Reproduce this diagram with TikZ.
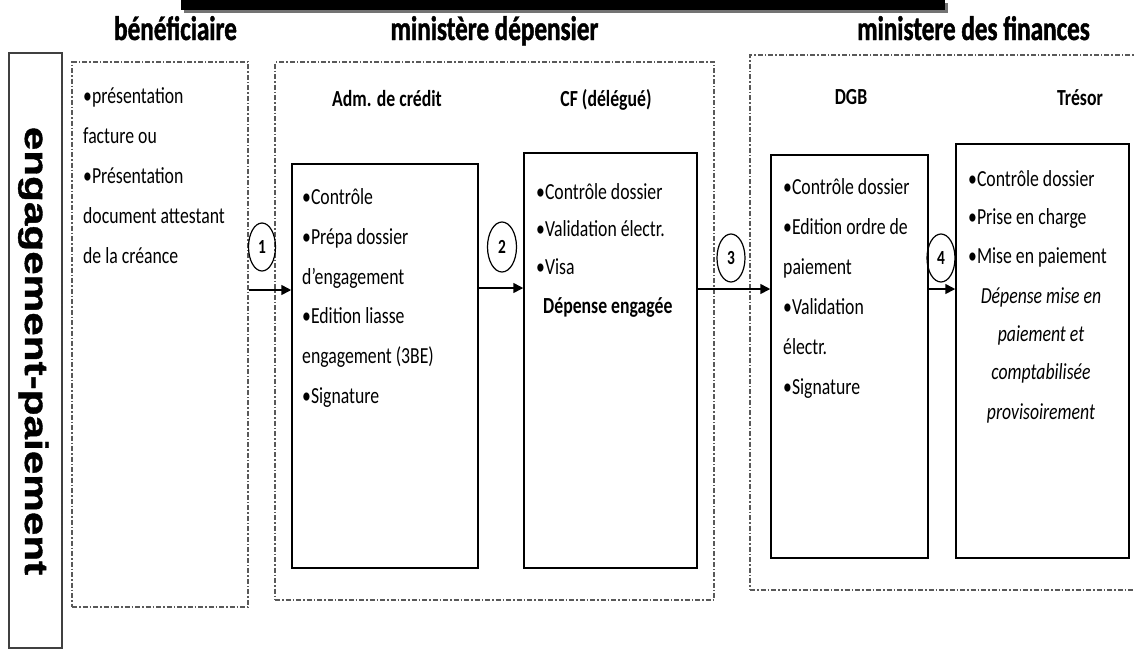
\documentclass[tikz,border=0pt]{standalone}
\usepackage{fontspec}
\setmainfont{Carlito}[FakeStretch=0.77]
\newfontfamily\tfont{Carlito}[FakeStretch=0.74, FakeBold=1.2]
\newfontfamily\vfont{Liberation Sans}[FakeStretch=1.3, FakeBold=1.2]
\usetikzlibrary{arrows.meta,shapes.geometric}
\begin{document}
\begin{tikzpicture}[x=1pt,y=-1pt,
  txt/.style={anchor=base west, inner sep=0pt, font=\fontsize{23}{27}\selectfont},
  ctxt/.style={anchor=base, inner sep=0pt, font=\itshape\fontsize{23}{27}\selectfont},
  head/.style={anchor=base, inner sep=0pt, font=\bfseries\fontsize{23}{27}\selectfont},
  title/.style={anchor=base, inner sep=0pt, font=\tfont\bfseries\fontsize{34}{36}\selectfont},
  solidbox/.style={draw=black, line width=1.5pt, inner sep=0pt},
  dashbox/.style={draw=black!65, line width=1.2pt, inner sep=0pt, dash pattern=on 5pt off 2pt on 1.5pt off 2pt},
  num/.style={draw, ellipse, line width=1.2pt, inner sep=0pt, minimum width=27pt, minimum height=48pt, font=\bfseries\fontsize{20}{20}\selectfont},
  arr/.style={line width=1.6pt, -{Triangle[length=10pt,width=10pt]}}]
\useasboundingbox (0,0) rectangle (1135,649);
\clip (0,0) rectangle (1135,649);
% top bar
\fill[black!55] (184,3) rectangle (948,13);
\fill[black] (181,0) rectangle (945,10);
% titles
\node[title] (t1) at (175.5,40) {bénéficiaire};
\node[title] (t2) at (494.5,40) {ministère dépensier};
\node[title] (t3) at (973.5,40) {ministere des finances};
% left label box
\node[draw=black!75, line width=1.2pt, inner sep=0pt, minimum width=53pt, minimum height=595pt] (lbox) at (35.5,350.5) {};
\node[anchor=base, rotate=-90, inner sep=0pt, font=\vfont\bfseries\fontsize{32.5}{34}\selectfont] (ltxt) at (25,351) {engagement-paiement};
% dashed groups
\node[dashbox, minimum width=176pt, minimum height=545pt] (ben) at (160,334.5) {};
\node[dashbox, minimum width=439pt, minimum height=538pt] (dep) at (494.5,331) {};
\node[dashbox, minimum width=395pt, minimum height=535pt] (fin) at (947.5,322.5) {};
% solid boxes
\node[solidbox, minimum width=186pt, minimum height=404pt] (adm) at (385,366) {};
\node[solidbox, minimum width=173pt, minimum height=415pt] (cf) at (610.5,360.5) {};
\node[solidbox, minimum width=157pt, minimum height=403pt] (dgb) at (849.5,356.5) {};
\node[solidbox, minimum width=173pt, minimum height=414pt] (tre) at (1042.5,351) {};
% headings
\node[head] (h1) at (387,106) {Adm. de crédit};
\node[head] (h2) at (606,106) {CF (délégué)};
\node[head] (h3) at (851,104) {DGB};
\node[head] (h4) at (1080,105) {Trésor};
% beneficiaire text
\node[txt] (b1) at (83,103) {•présentation};
\node[txt] (b2) at (83,143) {facture ou};
\node[txt] (b3) at (83,183) {•Présentation};
\node[txt] (b4) at (83,223) {document attestant};
\node[txt] (b5) at (83,263) {de la créance};
% adm text
\node[txt] (a1) at (302,204) {•Contrôle};
\node[txt] (a2) at (302,244) {•Prépa dossier};
\node[txt] (a3) at (302,284) {d’engagement};
\node[txt] (a4) at (302,323) {•Edition liasse};
\node[txt] (a5) at (302,363) {engagement (3BE)};
\node[txt] (a6) at (302,403) {•Signature};
% cf text
\node[txt] (c1) at (536,199) {•Contrôle dossier};
\node[txt] (c2) at (536,236) {•Validation électr.};
\node[txt] (c3) at (536,274) {•Visa};
\node[txt, font=\bfseries\fontsize{23}{27}\selectfont] (c4) at (543,313) {Dépense engagée};
% dgb text
\node[txt] (d1) at (783,194) {•Contrôle dossier};
\node[txt] (d2) at (783,234) {•Edition ordre de};
\node[txt] (d3) at (783,274) {paiement};
\node[txt] (d4) at (783,314) {•Validation};
\node[txt] (d5) at (783,354) {électr.};
\node[txt] (d6) at (783,394) {•Signature};
% tresor text
\node[txt] (r1) at (968,186) {•Contrôle dossier};
\node[txt] (r2) at (968,224) {•Prise en charge};
\node[txt] (r3) at (968,263) {•Mise en paiement};
\node[ctxt] (r4) at (1041,303) {Dépense mise en};
\node[ctxt] (r5) at (1041,341) {paiement et};
\node[ctxt] (r6) at (1041,379) {comptabilisée};
\node[ctxt] (r7) at (1041,419) {provisoirement};
% step numbers
\node[num] (n1) at (262,247) {1};
\node[num, minimum width=29pt, minimum height=50pt] (n2) at (502,247) {2};
\node[num, minimum width=28pt] (n3) at (731,258) {3};
\node[num, minimum width=28pt] (n4) at (941,258) {4};
% arrows
\draw[arr] (ben.east |- 0,290) -- (adm.west |- 0,290);
\draw[arr] (adm.east |- 0,288) -- (cf.west |- 0,288);
\draw[arr] (cf.east |- 0,289) -- (dgb.west |- 0,289);
\draw[arr] (dgb.east |- 0,289) -- (tre.west |- 0,289);
\end{tikzpicture}
\end{document}
